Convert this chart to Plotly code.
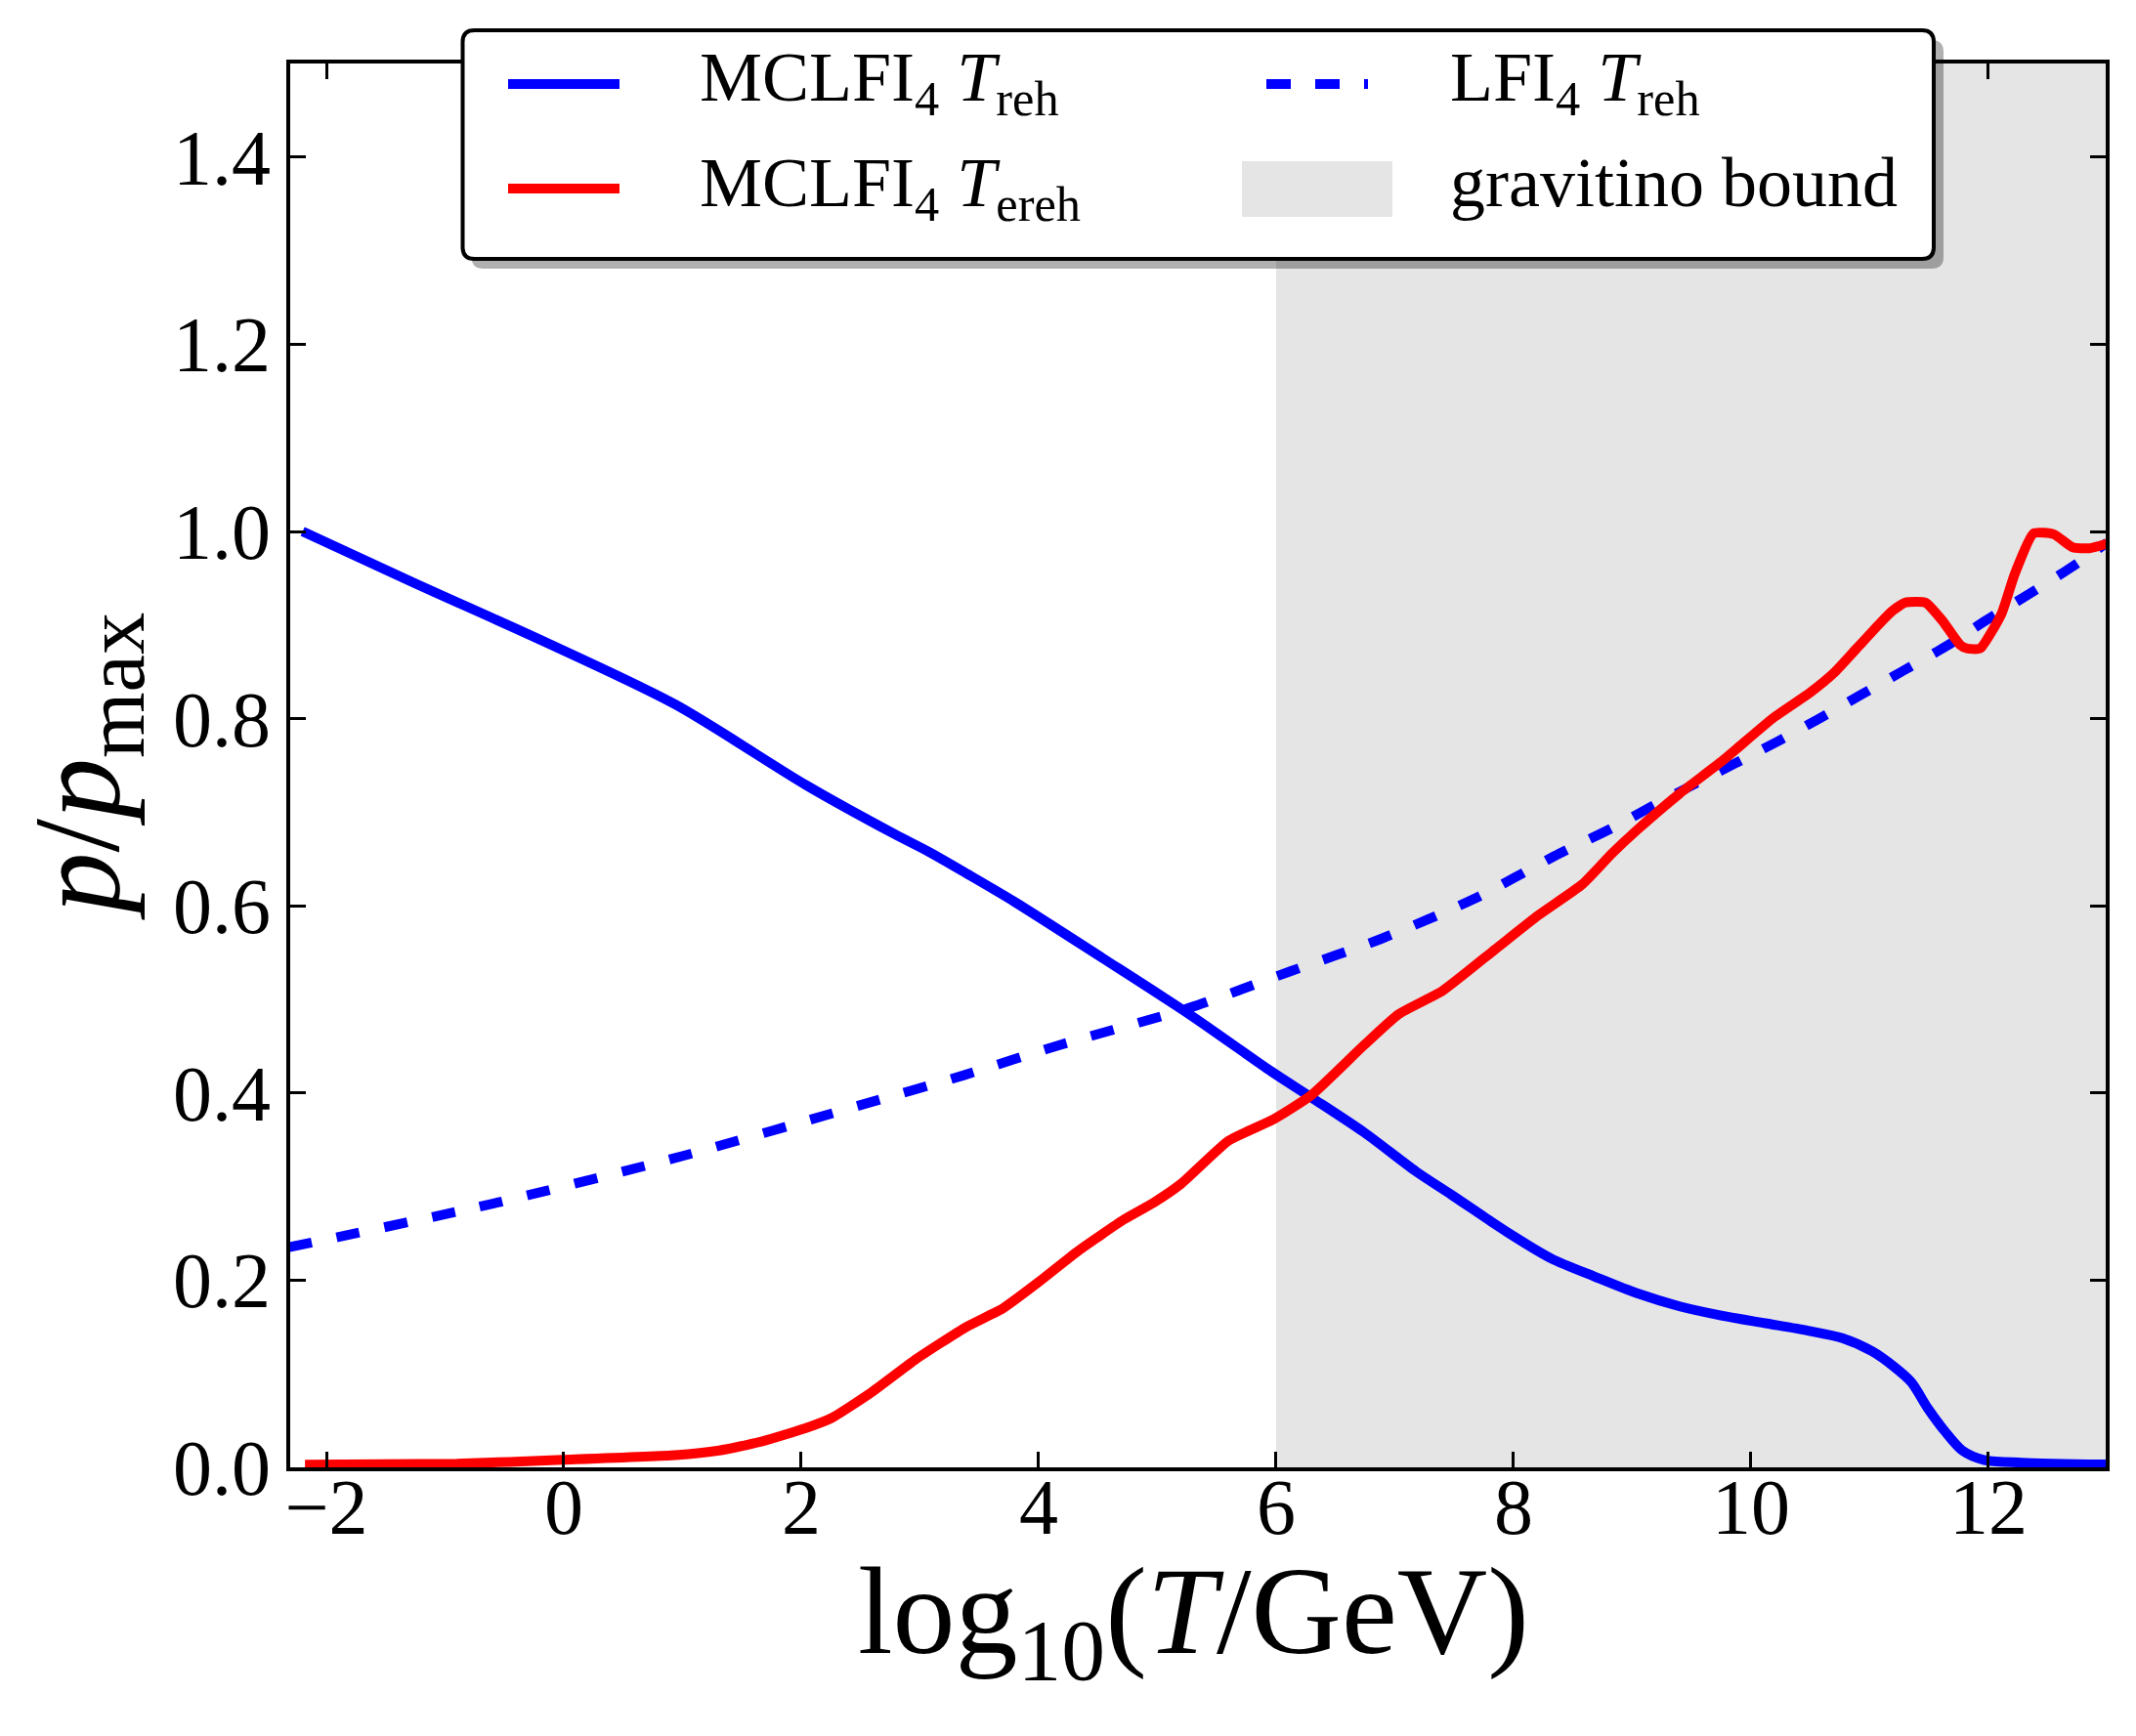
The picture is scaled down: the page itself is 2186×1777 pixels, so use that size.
import plotly.graph_objects as go

# ---------------- data ----------------
LOGT_MCLFI_TREH = [-2.20, -1.26, -0.16, 0.94, 2.04, 2.78, 3.07, 3.40, 3.80, 4.54, 5.27, 5.96,
                   6.30, 6.74, 7.18, 7.48, 7.95, 8.32, 8.68, 9.04, 9.40, 9.76, 10.12, 10.48,
                   10.77, 11.02, 11.20, 11.35, 11.49, 11.63, 11.78, 11.96, 12.28, 13.00]
P_MCLFI_TREH = [1.000, 0.945, 0.882, 0.815, 0.729, 0.677, 0.658, 0.634, 0.604, 0.544, 0.484, 0.423,
                0.395, 0.358, 0.316, 0.291, 0.251, 0.223, 0.204, 0.186, 0.172, 0.162, 0.154, 0.146,
                0.138, 0.124, 0.108, 0.091, 0.063, 0.039, 0.018, 0.008, 0.005, 0.003]

LOGT_MCLFI_TEREH = [-2.18, -0.90, -0.01, 0.94, 1.31, 1.68, 2.04, 2.26, 2.59, 2.96, 3.39,
                    3.70, 4.00, 4.33, 4.72, 4.97, 5.20, 5.60, 5.98, 6.30, 6.74, 7.03, 7.40,
                    7.84, 8.21, 8.58, 8.83, 9.04, 9.40, 9.76, 10.19, 10.50, 10.70, 10.89, 11.08,
                    11.19, 11.30, 11.47, 11.61, 11.76, 11.82, 11.93, 12.11, 12.22, 12.38, 12.55,
                    12.71, 12.85, 13.00]
P_MCLFI_TEREH = [0.003, 0.004, 0.008, 0.013, 0.018, 0.028, 0.042, 0.053, 0.080, 0.115, 0.150,
                 0.170, 0.198, 0.231, 0.265, 0.283, 0.303, 0.349, 0.372, 0.398, 0.451, 0.484, 0.509,
                 0.553, 0.590, 0.623, 0.656, 0.681, 0.720, 0.755, 0.801, 0.828, 0.849, 0.875, 0.901,
                 0.915, 0.924, 0.924, 0.905, 0.879, 0.875, 0.875, 0.912, 0.954, 0.998, 0.997,
                 0.983, 0.982, 0.987]

LOGT_LFI_TREH = [-2.32, -0.59, 1.01, 2.58, 3.37, 4.17, 5.27, 6.12, 6.89, 7.66, 8.39, 8.83, 9.19,
                 10.23, 10.56, 10.92, 11.28, 11.64, 11.98, 12.34, 12.69, 13.00]
P_LFI_TREH = [0.235, 0.282, 0.333, 0.390, 0.419, 0.451, 0.491, 0.530, 0.565, 0.607, 0.656, 0.683,
              0.708, 0.776, 0.799, 0.825, 0.851, 0.877, 0.905, 0.933, 0.961, 0.988]

GRAVITINO_BOUND = 6.0
X_TICKS = [-2, 0, 2, 4, 6, 8, 10, 12]
Y_TICKS = [0.0, 0.2, 0.4, 0.6, 0.8, 1.0, 1.2, 1.4]
X_RANGE = [-2.3045, 12.988]
Y_RANGE = [0.0, 1.5]

NAME_MCLFI_TREH = "MCLFI<sub>4</sub> <i>T</i><sub>reh</sub>"
NAME_MCLFI_TEREH = "MCLFI<sub>4</sub> <i>T</i><sub>ereh</sub>"
NAME_LFI_TREH = "LFI<sub>4</sub> <i>T</i><sub>reh</sub>"
NAME_GRAVITINO = "gravitino bound"
X_TITLE = "log<sub>10</sub>(<i>T</i>/GeV)"
Y_TITLE = "<i>p</i>/<i>p</i><sub>max</sub>"

# ---------------- styling / geometry ----------------
W, H = 2186, 1777
OFF = 8                      # page body margin of the written html
PL, PT, PR, PB = 297, 65, 2155, 1502   # plot area in page pixels
ML, MT = PL - OFF, PT - OFF
MR = W - (PR - OFF)
MB = H - (PB - OFF)
PW = PR - PL
PH = PB - PT
FONT = "Liberation Serif"
BLUE, RED, SHADE = "#0000ff", "#ff0000", "#e5e5e5"
LW = 10
DASH = "24px,26px"


def px(X):
    return (X - PL) / PW


def py(Y):
    return (PB - Y) / PH


def rounded_path(X0, Y0, X1, Y1, r):
    pts = [
        ("M", [(X0 + r, Y0)]), ("L", [(X1 - r, Y0)]), ("Q", [(X1, Y0), (X1, Y0 + r)]),
        ("L", [(X1, Y1 - r)]), ("Q", [(X1, Y1), (X1 - r, Y1)]), ("L", [(X0 + r, Y1)]),
        ("Q", [(X0, Y1), (X0, Y1 - r)]), ("L", [(X0, Y0 + r)]), ("Q", [(X0, Y0), (X0 + r, Y0)]),
    ]
    s = ""
    for cmd, ps in pts:
        s += cmd + " ".join(f"{px(a):.6f},{py(b):.6f}" for a, b in ps) + " "
    return s + "Z"


fig = go.Figure()
fig.add_trace(go.Scatter(x=LOGT_MCLFI_TREH, y=P_MCLFI_TREH, mode="lines", name=NAME_MCLFI_TREH,
                         line=dict(color=BLUE, width=LW, shape="spline", smoothing=0.8),
                         showlegend=False))
fig.add_trace(go.Scatter(x=LOGT_LFI_TREH, y=P_LFI_TREH, mode="lines", name=NAME_LFI_TREH,
                         line=dict(color=BLUE, width=LW, dash=DASH, shape="spline", smoothing=0.7),
                         showlegend=False))
fig.add_trace(go.Scatter(x=LOGT_MCLFI_TEREH, y=P_MCLFI_TEREH, mode="lines", name=NAME_MCLFI_TEREH,
                         line=dict(color=RED, width=LW, shape="spline", smoothing=0.5),
                         showlegend=False))

shapes = []
# gravitino bound shading
shapes.append(dict(type="rect", xref="x", yref="paper", x0=GRAVITINO_BOUND, x1=X_RANGE[1],
                   y0=0, y1=1, fillcolor=SHADE, line=dict(width=0), layer="below"))

# legend: shadow + rounded box
BX0, BY0, BX1, BY1 = 473.5, 31, 1979, 265
shapes.append(dict(type="path", xref="paper", yref="paper", layer="above",
                   path=rounded_path(BX0 + 9, BY0 + 10, BX1 + 10, BY1 + 10, 12),
                   fillcolor="rgba(0,0,0,0.31)", line=dict(width=0)))
shapes.append(dict(type="path", xref="paper", yref="paper", layer="above",
                   path=rounded_path(BX0, BY0, BX1, BY1, 12),
                   fillcolor="white", line=dict(color="black", width=4)))
# legend keys
ROW1, ROW2 = 86, 193
shapes.append(dict(type="line", xref="paper", yref="paper", layer="above",
                   x0=px(520), x1=px(634), y0=py(ROW1), y1=py(ROW1),
                   line=dict(color=BLUE, width=LW)))
shapes.append(dict(type="line", xref="paper", yref="paper", layer="above",
                   x0=px(520), x1=px(634), y0=py(ROW2), y1=py(ROW2),
                   line=dict(color=RED, width=LW)))
shapes.append(dict(type="line", xref="paper", yref="paper", layer="above",
                   x0=px(1296), x1=px(1400), y0=py(ROW1), y1=py(ROW1),
                   line=dict(color=BLUE, width=LW, dash="25px,25px")))
shapes.append(dict(type="rect", xref="paper", yref="paper", layer="above",
                   x0=px(1271), x1=px(1425), y0=py(222), y1=py(165),
                   fillcolor=SHADE, line=dict(width=0)))

LEG_FONT = dict(family=FONT, size=72, color="black")
annotations = [
    dict(text=NAME_MCLFI_TREH, x=px(714), y=py(84), xanchor="left", yanchor="middle"),
    dict(text=NAME_MCLFI_TEREH, x=px(714), y=py(192), xanchor="left", yanchor="middle"),
    dict(text=NAME_LFI_TREH, x=px(1482), y=py(84), xanchor="left", yanchor="middle"),
    dict(text=NAME_GRAVITINO, x=px(1482), y=py(187), xanchor="left", yanchor="middle"),
]
for a in annotations:
    a.update(xref="paper", yref="paper", showarrow=False, font=LEG_FONT)

annotations.append(dict(text=X_TITLE, xref="paper", yref="paper", x=px(1221), y=py(1576),
                        xanchor="center", yanchor="top", showarrow=False,
                        font=dict(family=FONT, size=128, color="black")))
annotations.append(dict(text=Y_TITLE, xref="paper", yref="paper", x=px(8), y=py(785),
                        xanchor="left", yanchor="middle", textangle=-90, showarrow=False,
                        font=dict(family=FONT, size=124, color="black")))

axis_common = dict(showline=True, linewidth=4, linecolor="black", mirror="ticks",
                   ticks="inside", ticklen=16, tickwidth=2.5, tickcolor="black",
                   showgrid=False, zeroline=False,
                   tickfont=dict(family=FONT, size=80, color="black"))

fig.update_layout(
    width=W, height=H,
    margin=dict(l=ML, r=MR, t=MT, b=MB, autoexpand=False),
    paper_bgcolor="white", plot_bgcolor="white",
    showlegend=False,
    shapes=shapes,
    annotations=annotations,
    xaxis=dict(range=X_RANGE, tickvals=X_TICKS, ticklabelstandoff=-32, **axis_common),
    yaxis=dict(range=Y_RANGE, tickvals=Y_TICKS, tickformat=".1f", ticklabelstandoff=0,
               **axis_common),
)

fig.write_html("out.html")
